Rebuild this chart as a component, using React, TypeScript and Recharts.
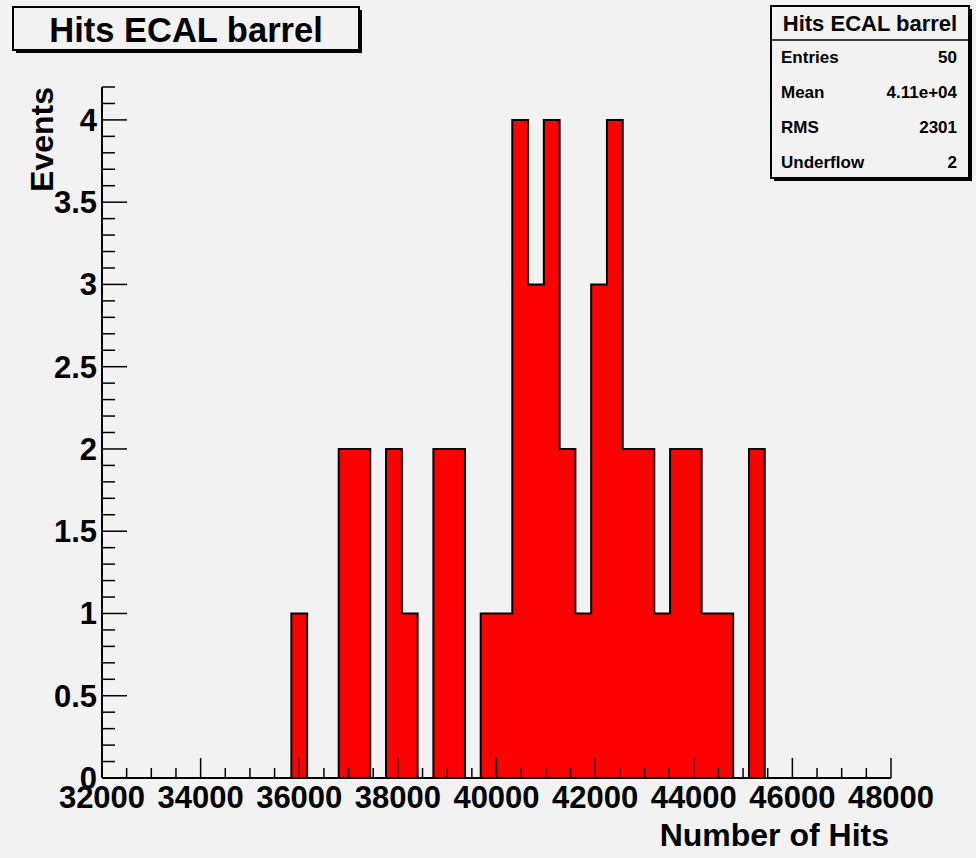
import { Area, ComposedChart, XAxis, YAxis } from 'recharts'

// histogram definition: 50 bins between 32000 and 48000
const X_MIN = 32000
const X_MAX = 48000
const BIN_WIDTH = 320

// entries per bin
const binCounts = [
  0, 0, 0, 0, 0, 0, 0, 0, 0, 0,
  0, 0, 1, 0, 0, 2, 2, 0, 2, 1,
  0, 2, 2, 0, 1, 1, 4, 3, 4, 2,
  1, 3, 4, 2, 2, 1, 2, 2, 1, 1,
  0, 2, 0, 0, 0, 0, 0, 0, 0, 0,
]

const xMajorTicks = [32000, 34000, 36000, 38000, 40000, 42000, 44000, 46000, 48000]
const xMinorStep = 500
const yMajorTicks = [0, 0.5, 1, 1.5, 2, 2.5, 3, 3.5, 4]
const yMinorStep = 0.1
const Y_MAX = 4.2

const statsRows = [
  { label: 'Entries', value: '50' },
  { label: 'Mean', value: '4.11e+04' },
  { label: 'RMS', value: '2301' },
  { label: 'Underflow', value: '2' },
]

const TITLE = 'Hits ECAL barrel'
const X_TITLE = 'Number of Hits'
const Y_TITLE = 'Events'

const FONT = '"Liberation Sans", Arial, Helvetica, sans-serif'
const BG = '#f2f2f2'

// step outline: one point per bin low edge, plus closing edge
const histData = [
  ...binCounts.map((c, i) => ({ x: X_MIN + i * BIN_WIDTH, n: c })),
  { x: X_MAX, n: 0 },
]

const xTicks: number[] = []
for (let v = X_MIN; v <= X_MAX; v += xMinorStep) xTicks.push(v)
const yTicks: number[] = []
for (let k = 0; k <= Math.round(Y_MAX / yMinorStep); k++) yTicks.push(Math.round(k * yMinorStep * 10) / 10)

function XTick(props: any) {
  const { x, y, payload } = props
  const major = xMajorTicks.includes(payload.value)
  return (
    <g>
      <line x1={x} x2={x} y1={y} y2={y - (major ? 20 : 10)} stroke="#000" strokeWidth={1.5} />
      {major && (
        <text x={x} y={y + 30} textAnchor="middle" fontFamily={FONT} fontWeight="bold" fontSize={31} fill="#000">
          {payload.value}
        </text>
      )}
    </g>
  )
}

function YTick(props: any) {
  const { x, y, payload } = props
  const major = yMajorTicks.includes(payload.value)
  return (
    <g>
      <line x1={x} x2={x + (major ? 25 : 13)} y1={y} y2={y} stroke="#000" strokeWidth={1.5} />
      {major && (
        <text x={x - 5} y={y + 11} textAnchor="end" fontFamily={FONT} fontWeight="bold" fontSize={31} fill="#000">
          {payload.value}
        </text>
      )}
    </g>
  )
}

export default function App() {
  return (
    <div style={{ position: 'fixed', left: 0, top: 0, width: 976, height: 858, background: BG }}>
      <ComposedChart width={976} height={858} data={histData} margin={{ top: 87, right: 85, bottom: 40, left: 12 }}>
        <Area
          type="stepAfter"
          dataKey="n"
          fill="#ff0000"
          fillOpacity={1}
          stroke="#000"
          strokeWidth={2}
          isAnimationActive={false}
          dot={false}
          activeDot={false}
        />
        <XAxis
          dataKey="x"
          type="number"
          domain={[X_MIN, X_MAX]}
          ticks={xTicks}
          interval={0}
          allowDataOverflow
          height={40}
          tickSize={0}
          tickMargin={0}
          tickLine={false}
          tick={<XTick />}
          axisLine={{ stroke: '#000', strokeWidth: 2 }}
        />
        <XAxis
          xAxisId="top"
          orientation="top"
          type="number"
          domain={[X_MIN, X_MAX]}
          height={0}
          tick={false}
          tickLine={false}
          axisLine={{ stroke: '#000', strokeWidth: 2 }}
        />
        <YAxis
          type="number"
          domain={[0, Y_MAX]}
          ticks={yTicks}
          interval={0}
          allowDataOverflow
          width={90}
          tickSize={0}
          tickMargin={0}
          tickLine={false}
          tick={<YTick />}
          axisLine={{ stroke: '#000', strokeWidth: 2 }}
        />
        <YAxis
          yAxisId="right"
          orientation="right"
          type="number"
          domain={[0, Y_MAX]}
          width={0}
          tick={false}
          tickLine={false}
          axisLine={{ stroke: '#000', strokeWidth: 2 }}
        />
      </ComposedChart>

      <svg width={976} height={858} style={{ position: 'absolute', left: 0, top: 0, pointerEvents: 'none' }}>
        {/* title box */}
        <rect x={16} y={10} width={346} height={43} fill="#000" />
        <rect x={13} y={7} width={346} height={43} fill={BG} stroke="#000" strokeWidth={2} />
        <text x={186} y={42} textAnchor="middle" fontFamily={FONT} fontWeight="bold" fontSize={34.5} fill="#000">
          {TITLE}
        </text>

        {/* stats box */}
        <rect x={774} y={9} width={198} height={172} fill="#000" />
        <rect x={771} y={6} width={198} height={172} fill={BG} stroke="#000" strokeWidth={2} />
        <line x1={771} x2={969} y1={40} y2={40} stroke="#000" strokeWidth={1.5} />
        <text x={870} y={31} textAnchor="middle" fontFamily={FONT} fontWeight="bold" fontSize={22} fill="#000">
          {TITLE}
        </text>
        {statsRows.map((r, i) => (
          <g key={r.label}>
            <text x={781} y={63 + i * 35} fontFamily={FONT} fontWeight="bold" fontSize={17} fill="#000">
              {r.label}
            </text>
            <text x={957} y={63 + i * 35} textAnchor="end" fontFamily={FONT} fontWeight="bold" fontSize={17} fill="#000">
              {r.value}
            </text>
          </g>
        ))}

        {/* axis titles */}
        <text x={889} y={846} textAnchor="end" fontFamily={FONT} fontWeight="bold" fontSize={32} fill="#000">
          {X_TITLE}
        </text>
        <text
          transform="translate(53, 87) rotate(-90)"
          textAnchor="end"
          fontFamily={FONT}
          fontWeight="bold"
          fontSize={32}
          fill="#000"
        >
          {Y_TITLE}
        </text>
      </svg>
    </div>
  )
}
